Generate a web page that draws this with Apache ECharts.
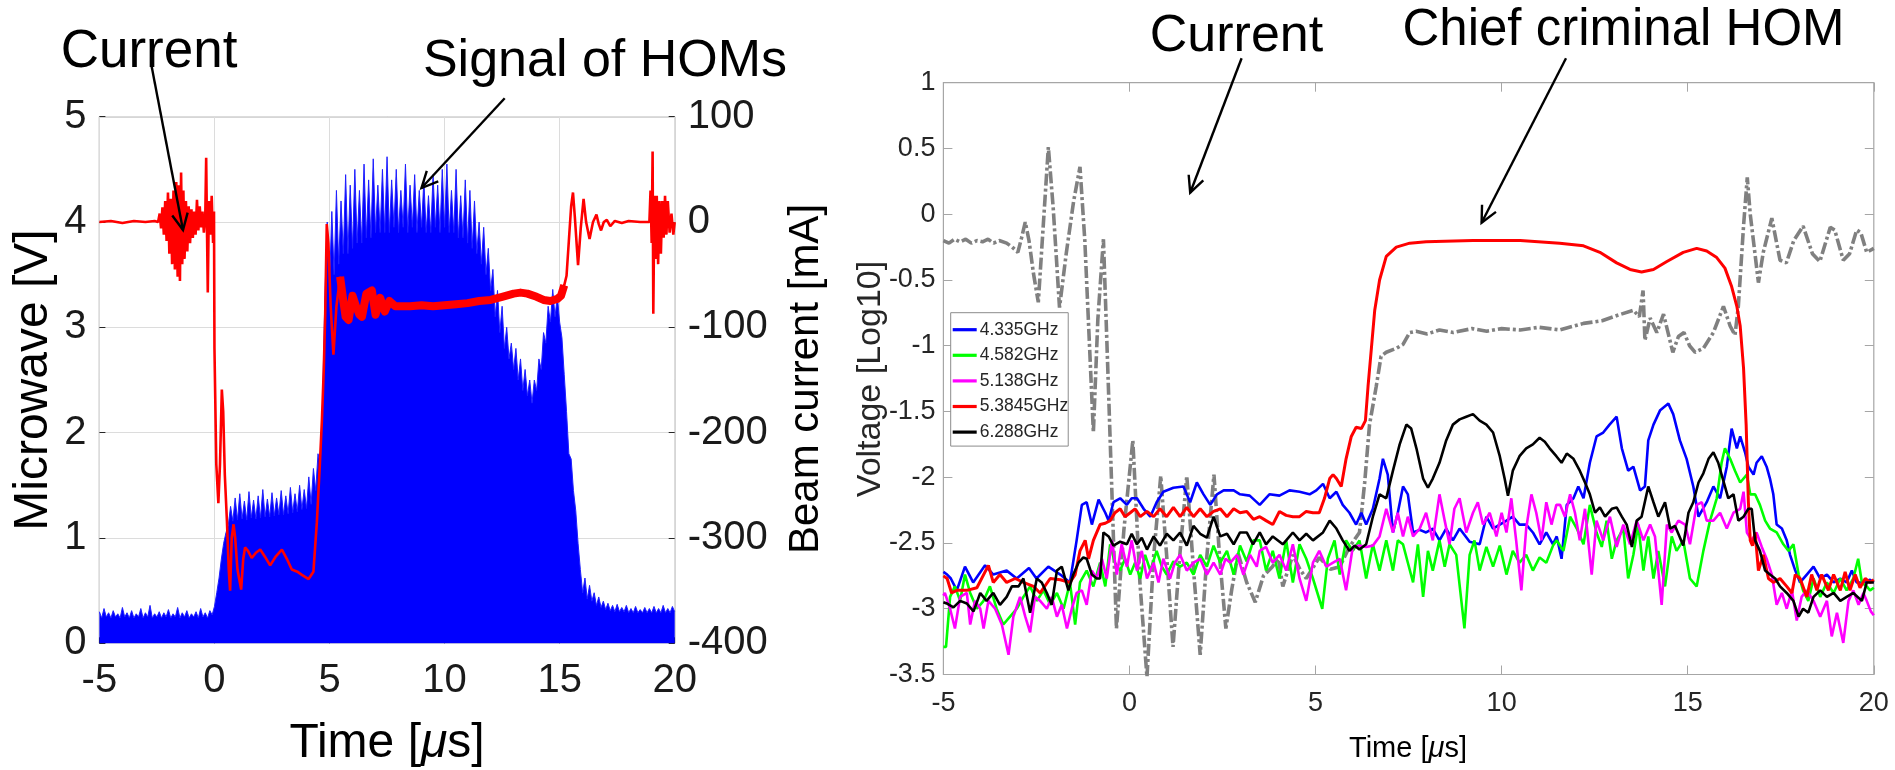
<!DOCTYPE html>
<html><head><meta charset="utf-8">
<script src="https://cdn.jsdelivr.net/npm/echarts@6/dist/echarts.min.js"></script>
<style>html,body{margin:0;padding:0;background:#fff}#c{width:1895px;height:770px}</style>
</head><body><div id="c"></div>
<script>
const FONT = '"Liberation Sans", Arial, Helvetica, sans-serif';

// ---------- LEFT PANEL DATA ----------
// HOM signal envelope (V), sampled every 0.1 us starting at -5 us
const homStartTime = -5, homStep = 0.1;
const homSignal = [
  0.30,0.24,0.33,0.25,0.29,0.24,0.31,0.25,0.28,0.24,
  0.34,0.25,0.29,0.24,0.31,0.24,0.28,0.25,0.33,0.24,
  0.29,0.25,0.36,0.24,0.28,0.25,0.30,0.24,0.29,0.25,
  0.32,0.24,0.28,0.25,0.34,0.24,0.29,0.25,0.31,0.24,
  0.28,0.25,0.30,0.24,0.33,0.25,0.29,0.24,0.31,0.27,
  0.35,0.48,0.62,0.80,0.95,1.05,1.12,1.30,1.16,1.38,
  1.17,1.42,1.18,1.35,1.17,1.44,1.19,1.36,1.18,1.40,
  1.19,1.46,1.20,1.37,1.20,1.43,1.21,1.38,1.22,1.45,
  1.22,1.40,1.23,1.48,1.24,1.42,1.25,1.50,1.27,1.46,
  1.28,1.58,1.32,1.66,1.45,1.80,1.70,2.30,3.30,4.00,
  3.40,4.10,3.50,4.30,3.60,4.20,3.70,4.45,3.70,4.35,
  3.75,4.50,3.80,4.30,3.80,4.55,3.85,4.40,3.85,4.60,
  3.90,4.35,3.90,4.50,3.90,4.62,3.90,4.40,3.95,4.50,
  3.90,4.30,3.95,4.55,3.90,4.35,3.95,4.45,3.90,4.30,
  3.95,4.40,3.90,4.25,3.90,4.45,3.95,4.35,3.90,4.50,
  3.95,4.55,3.90,4.30,3.90,4.50,3.85,4.25,3.85,4.40,
  3.80,4.30,3.75,4.20,3.70,4.00,3.60,3.95,3.50,3.75,
  3.35,3.55,3.10,3.35,2.95,3.20,2.80,3.00,2.70,2.85,
  2.60,2.80,2.50,2.70,2.40,2.60,2.35,2.50,2.28,2.50,
  2.40,2.70,2.60,2.95,2.85,3.20,3.05,3.36,3.10,3.30,
  3.05,2.90,2.55,2.20,1.80,1.75,1.45,1.26,0.95,0.70,
  0.48,0.62,0.42,0.55,0.40,0.48,0.36,0.44,0.34,0.40,
  0.32,0.38,0.31,0.36,0.30,0.37,0.30,0.34,0.30,0.36,
  0.29,0.33,0.29,0.35,0.29,0.32,0.29,0.34,0.29,0.33,
  0.29,0.35,0.29,0.33,0.29,0.36,0.29,0.33,0.29,0.35,
  0.30
];
// Beam current [time us, mA]
const beamCurrent = [
  [-5,0],[-4.5,1],[-4,-1],[-3.5,1],[-3,0],[-2.6,1],
  [-2.45,0],[-2.38,8],[-2.32,-6],[-2.26,14],[-2.2,-12],[-2.14,20],[-2.08,-18],[-2.02,28],[-1.96,-30],[-1.9,22],
  [-1.84,-40],[-1.78,30],[-1.72,-45],[-1.66,38],[-1.6,-52],[-1.55,35],[-1.5,-56],[-1.45,47],[-1.4,-40],[-1.35,30],
  [-1.3,-35],[-1.24,20],[-1.18,-28],[-1.12,15],[-1.06,-20],[-1.0,12],[-0.94,-15],[-0.88,10],[-0.82,-12],[-0.76,21],
  [-0.7,-8],[-0.64,15],[-0.58,-5],[-0.52,10],[-0.46,-10],[-0.4,5],[-0.36,61],[-0.32,-15],[-0.29,-67],[-0.24,20],
  [-0.18,-12],[-0.12,25],[-0.06,-20],[-0.02,10],
  [0.0,-120],[0.08,-230],[0.17,-267],[0.24,-230],[0.32,-159],[0.38,-180],[0.45,-240],[0.54,-283],[0.62,-330],[0.68,-350],
  [0.75,-300],[0.83,-287],[0.9,-300],[1.0,-330],[1.16,-349],[1.25,-320],[1.33,-309],[1.45,-312],[1.62,-319],[1.8,-314],
  [1.99,-311],[2.2,-318],[2.42,-326],[2.65,-318],[2.93,-311],[3.15,-320],[3.36,-330],[3.6,-332],[3.8,-335],[4.09,-339],
  [4.3,-332],[4.45,-285],[4.58,-230],[4.67,-188],[4.75,-140],[4.81,-90],[4.88,-2],[4.95,-20],[5.05,-80],[5.17,-126],
  [5.3,-80],[5.46,-52],[5.6,-75],[5.7,-90],[5.83,-93],[6.0,-70],[6.15,-80],[6.3,-88],[6.41,-90],[6.6,-68],
  [6.84,-65],[7.0,-88],[7.2,-72],[7.4,-85],[7.6,-75],[7.86,-80],[8.5,-80],[9,-79],[9.5,-80],[10,-79],
  [10.5,-78],[11,-77],[11.5,-75],[12,-74],[12.5,-71],[13,-68],[13.3,-67],[13.6,-68],[14,-71],[14.3,-74],
  [14.6,-75],[14.9,-73],[15.06,-70],[15.2,-60],[15.3,-51],[15.4,-18],[15.5,15],[15.58,28],[15.66,5],[15.8,-41],
  [15.92,-5],[16.04,22],[16.15,0],[16.3,-16],[16.45,0],[16.6,7],[16.7,-2],[16.8,-8],[16.92,0],[17.05,2],
  [17.2,-4],[17.4,1],[17.7,-1],[18,1],[18.5,0],[18.9,0],
  [18.95,30],[19.0,-20],[19.04,67],[19.07,-87],[19.12,25],[19.18,-35],[19.22,25],[19.28,-40],[19.34,20],[19.4,-30],
  [19.46,20],[19.52,-15],[19.58,25],[19.64,-12],[19.7,20],[19.78,-10],[19.86,8],[19.94,-12],[20,0]
];

// ---------- RIGHT PANEL DATA ([time us, log10 V]) ----------
const hom4335 = [[-5,-2.72],[-4.9,-2.74],[-4.8,-2.77],[-4.64,-2.86],[-4.42,-2.68],[-4.2,-2.8],[-3.88,-2.67],[-3.66,-2.74],[-3.3,-2.71],[-3.03,-2.77],[-2.7,-2.69],[-2.5,-2.77],[-2.18,-2.68],[-1.86,-2.74],[-1.6,-2.8],[-1.42,-2.48],[-1.28,-2.21],[-1.15,-2.19],[-1.01,-2.36],[-0.83,-2.17],[-0.65,-2.27],[-0.56,-2.33],[-0.43,-2.19],[-0.25,-2.16],[-0.07,-2.21],[0.06,-2.16],[0.2,-2.16],[0.38,-2.24],[0.56,-2.3],[0.73,-2.19],[0.91,-2.11],[1.18,-2.08],[1.45,-2.07],[1.63,-2.19],[1.81,-2.04],[1.99,-2.13],[2.17,-2.21],[2.35,-2.13],[2.53,-2.1],[2.8,-2.1],[2.97,-2.13],[3.23,-2.14],[3.5,-2.21],[3.76,-2.13],[4.03,-2.14],[4.3,-2.1],[4.57,-2.11],[4.84,-2.13],[5.02,-2.1],[5.2,-2.05],[5.38,-2.16],[5.56,-2.11],[5.73,-2.21],[5.91,-2.27],[6.09,-2.36],[6.23,-2.27],[6.36,-2.36],[6.54,-2.24],[6.72,-2.01],[6.81,-1.86],[6.94,-1.98],[7.08,-2.42],[7.21,-2.27],[7.35,-2.07],[7.48,-2.13],[7.62,-2.42],[7.8,-2.4],[7.97,-2.42],[8.15,-2.39],[8.33,-2.48],[8.51,-2.39],[8.69,-2.48],[8.87,-2.39],[9.14,-2.49],[9.41,-2.51],[9.59,-2.3],[9.77,-2.39],[9.95,-2.36],[10.13,-2.33],[10.3,-2.3],[10.48,-2.36],[10.66,-2.36],[10.84,-2.42],[11.02,-2.51],[11.2,-2.42],[11.38,-2.51],[11.48,-2.45],[11.61,-2.62],[11.75,-2.21],[11.93,-2.16],[12.06,-2.07],[12.2,-2.16],[12.37,-1.89],[12.55,-1.69],[12.73,-1.66],[12.9,-1.6],[13.09,-1.54],[13.23,-1.78],[13.4,-1.95],[13.54,-1.92],[13.72,-2.1],[13.85,-2.07],[13.94,-1.72],[14.08,-1.6],[14.26,-1.49],[14.48,-1.44],[14.61,-1.52],[14.79,-1.72],[14.97,-1.86],[15.15,-2.07],[15.29,-2.3],[15.51,-2.19],[15.69,-2.07],[15.87,-2.16],[16.05,-1.92],[16.18,-1.63],[16.32,-1.78],[16.41,-1.69],[16.54,-1.81],[16.63,-1.92],[16.77,-1.98],[16.85,-1.89],[16.99,-1.84],[17.12,-1.92],[17.21,-2.01],[17.3,-2.13],[17.39,-2.36],[17.53,-2.39],[17.66,-2.48],[17.75,-2.59],[17.89,-2.71],[18.02,-2.8],[18.2,-2.74],[18.38,-2.68],[18.56,-2.77],[18.74,-2.74],[18.92,-2.8],[19.1,-2.77],[19.27,-2.8],[19.41,-2.71],[19.54,-2.8],[19.72,-2.8],[19.9,-2.78],[20,-2.8]];
const hom4582 = [[-5,-3.29],[-4.93,-3.29],[-4.82,-2.91],[-4.69,-2.83],[-4.55,-2.94],[-4.42,-2.74],[-4.28,-2.88],[-4.1,-3.0],[-3.92,-2.94],[-3.75,-2.83],[-3.57,-3.0],[-3.39,-3.12],[-3.21,-3.06],[-3.03,-3.0],[-2.85,-2.91],[-2.67,-2.83],[-2.49,-2.94],[-2.31,-2.86],[-2.13,-2.97],[-1.95,-2.88],[-1.77,-3.0],[-1.6,-2.8],[-1.46,-3.12],[-1.33,-2.8],[-1.15,-2.71],[-0.97,-2.83],[-0.79,-2.65],[-0.65,-2.83],[-0.52,-2.51],[-0.39,-2.65],[-0.25,-2.71],[-0.12,-2.62],[0.02,-2.74],[0.15,-2.65],[0.29,-2.77],[0.42,-2.59],[0.56,-2.71],[0.73,-2.56],[0.87,-2.68],[1.0,-2.74],[1.18,-2.64],[1.36,-2.68],[1.54,-2.65],[1.72,-2.74],[1.9,-2.59],[2.08,-2.68],[2.26,-2.52],[2.44,-2.65],[2.62,-2.56],[2.8,-2.74],[2.97,-2.52],[3.15,-2.64],[3.33,-2.48],[3.5,-2.48],[3.67,-2.71],[3.85,-2.56],[4.03,-2.77],[4.21,-2.48],[4.39,-2.8],[4.57,-2.51],[4.75,-2.62],[4.93,-2.77],[5.18,-3.0],[5.33,-2.62],[5.51,-2.48],[5.65,-2.74],[5.82,-2.48],[6.0,-2.56],[6.18,-2.48],[6.36,-2.77],[6.54,-2.51],[6.72,-2.71],[6.9,-2.48],[7.08,-2.71],[7.21,-2.48],[7.35,-2.51],[7.48,-2.65],[7.62,-2.8],[7.75,-2.51],[7.89,-2.91],[8.02,-2.56],[8.15,-2.71],[8.33,-2.48],[8.47,-2.68],[8.6,-2.51],[8.78,-2.59],[9.0,-3.15],[9.14,-2.59],[9.27,-2.48],[9.41,-2.71],[9.59,-2.53],[9.77,-2.68],[9.95,-2.52],[10.13,-2.74],[10.3,-2.56],[10.48,-2.65],[10.66,-2.59],[10.84,-2.71],[11.02,-2.61],[11.2,-2.65],[11.38,-2.52],[11.48,-2.48],[11.66,-2.56],[11.84,-2.3],[12.02,-2.39],[12.2,-2.51],[12.37,-2.21],[12.55,-2.42],[12.69,-2.53],[12.82,-2.33],[12.96,-2.62],[13.09,-2.48],[13.27,-2.39],[13.4,-2.77],[13.54,-2.59],[13.67,-2.36],[13.81,-2.71],[13.94,-2.45],[14.08,-2.77],[14.21,-2.56],[14.39,-2.83],[14.57,-2.45],[14.7,-2.56],[14.88,-2.48],[15.06,-2.77],[15.24,-2.83],[15.42,-2.56],[15.6,-2.33],[15.78,-2.16],[15.91,-1.89],[16.0,-1.78],[16.14,-1.86],[16.27,-1.95],[16.41,-2.04],[16.59,-1.98],[16.68,-2.13],[16.81,-2.13],[16.94,-2.21],[17.08,-2.33],[17.21,-2.39],[17.39,-2.42],[17.57,-2.51],[17.71,-2.56],[17.84,-2.51],[17.98,-2.74],[18.1,-2.86],[18.24,-2.94],[18.38,-2.77],[18.56,-2.91],[18.74,-2.8],[18.92,-2.88],[19.1,-2.77],[19.27,-2.86],[19.45,-2.77],[19.58,-2.62],[19.68,-2.8],[19.81,-2.83],[19.9,-2.86],[20,-2.84]];
const hom5138 = [[-5,-2.9],[-4.96,-2.88],[-4.82,-3.0],[-4.69,-3.15],[-4.55,-2.91],[-4.37,-2.88],[-4.28,-3.12],[-4.15,-2.94],[-4.01,-3.0],[-3.92,-3.15],[-3.79,-2.94],[-3.61,-3.0],[-3.43,-3.12],[-3.25,-3.35],[-3.12,-3.06],[-2.94,-2.91],[-2.8,-3.06],[-2.67,-3.18],[-2.54,-2.91],[-2.4,-2.94],[-2.22,-3.0],[-2.09,-2.91],[-1.95,-3.06],[-1.82,-2.97],[-1.68,-3.15],[-1.55,-3.0],[-1.42,-2.88],[-1.28,-2.86],[-1.15,-2.97],[-1.01,-2.71],[-0.88,-2.77],[-0.74,-2.62],[-0.61,-2.77],[-0.47,-2.48],[-0.34,-2.74],[-0.21,-2.51],[-0.07,-2.68],[0.06,-2.48],[0.2,-2.71],[0.33,-2.56],[0.47,-2.77],[0.65,-2.65],[0.78,-2.8],[0.91,-2.62],[1.09,-2.77],[1.22,-2.65],[1.36,-2.59],[1.54,-2.71],[1.72,-2.65],[1.9,-2.62],[2.08,-2.74],[2.26,-2.65],[2.44,-2.74],[2.58,-2.62],[2.71,-2.65],[2.89,-2.59],[3.06,-2.74],[3.24,-2.59],[3.42,-2.68],[3.5,-2.56],[3.67,-2.53],[3.85,-2.65],[4.03,-2.59],[4.21,-2.71],[4.39,-2.51],[4.57,-2.77],[4.75,-2.94],[4.93,-2.65],[5.1,-2.56],[5.29,-2.68],[5.47,-2.65],[5.65,-2.62],[5.82,-2.86],[6.0,-2.53],[6.18,-2.52],[6.36,-2.53],[6.54,-2.52],[6.72,-2.45],[6.9,-2.24],[7.08,-2.42],[7.21,-2.27],[7.35,-2.45],[7.48,-2.3],[7.62,-2.45],[7.8,-2.39],[7.97,-2.27],[8.15,-2.48],[8.33,-2.13],[8.47,-2.33],[8.6,-2.51],[8.73,-2.24],[8.87,-2.16],[9.05,-2.42],[9.23,-2.27],[9.36,-2.19],[9.5,-2.36],[9.68,-2.27],[9.86,-2.45],[10.0,-2.27],[10.13,-2.42],[10.26,-2.16],[10.39,-2.48],[10.53,-2.86],[10.66,-2.39],[10.8,-2.13],[10.93,-2.27],[11.07,-2.48],[11.2,-2.19],[11.34,-2.36],[11.47,-2.21],[11.57,-2.21],[11.7,-2.3],[11.84,-2.13],[11.97,-2.27],[12.1,-2.48],[12.24,-2.24],[12.42,-2.74],[12.55,-2.33],[12.73,-2.48],[12.91,-2.3],[13.09,-2.53],[13.27,-2.36],[13.45,-2.51],[13.63,-2.33],[13.81,-2.48],[13.99,-2.36],[14.12,-2.45],[14.3,-2.97],[14.44,-2.36],[14.57,-2.42],[14.75,-2.33],[14.93,-2.36],[15.06,-2.51],[15.24,-2.21],[15.38,-2.19],[15.51,-2.33],[15.69,-2.33],[15.87,-2.27],[16.05,-2.39],[16.23,-2.27],[16.41,-2.24],[16.5,-2.11],[16.59,-2.42],[16.72,-2.48],[16.85,-2.42],[16.99,-2.53],[17.12,-2.62],[17.26,-2.74],[17.39,-2.97],[17.53,-2.88],[17.66,-3.0],[17.8,-2.86],[17.93,-3.09],[18.06,-2.91],[18.2,-2.86],[18.38,-2.94],[18.56,-3.06],[18.74,-2.94],[18.87,-3.21],[19.01,-3.03],[19.18,-3.26],[19.32,-2.94],[19.45,-2.86],[19.59,-2.97],[19.72,-2.88],[19.81,-2.94],[19.92,-3.02],[20,-3.05]];
const hom53845 = [[-5,-2.75],[-4.9,-2.77],[-4.78,-2.88],[-4.64,-2.86],[-4.37,-2.86],[-4.1,-2.84],[-3.79,-2.67],[-3.66,-2.8],[-3.48,-2.74],[-3.3,-2.8],[-3.07,-2.77],[-2.85,-2.8],[-2.58,-2.83],[-2.4,-2.88],[-2.13,-2.77],[-1.86,-2.78],[-1.6,-2.8],[-1.46,-2.74],[-1.33,-2.56],[-1.19,-2.48],[-1.1,-2.62],[-0.97,-2.48],[-0.79,-2.36],[-0.65,-2.35],[-0.52,-2.33],[-0.39,-2.27],[-0.25,-2.24],[-0.12,-2.3],[0.02,-2.27],[0.15,-2.24],[0.29,-2.3],[0.47,-2.26],[0.65,-2.3],[0.82,-2.24],[1.0,-2.3],[1.18,-2.23],[1.36,-2.3],[1.54,-2.23],[1.72,-2.3],[1.9,-2.24],[2.08,-2.3],[2.26,-2.26],[2.44,-2.24],[2.62,-2.3],[2.8,-2.24],[2.97,-2.27],[3.15,-2.26],[3.33,-2.32],[3.5,-2.3],[3.67,-2.33],[3.85,-2.36],[4.03,-2.26],[4.21,-2.29],[4.39,-2.3],[4.57,-2.3],[4.75,-2.26],[4.93,-2.27],[5.1,-2.27],[5.24,-2.16],[5.38,-2.01],[5.47,-1.98],[5.56,-2.01],[5.69,-2.07],[5.82,-1.86],[5.96,-1.69],[6.09,-1.62],[6.23,-1.63],[6.34,-1.57],[6.41,-1.31],[6.5,-1.02],[6.59,-0.73],[6.72,-0.5],[6.9,-0.32],[7.17,-0.25],[7.53,-0.22],[7.97,-0.21],[9.23,-0.2],[10.5,-0.2],[11.56,-0.22],[12.2,-0.24],[12.64,-0.29],[13.09,-0.37],[13.45,-0.42],[13.76,-0.44],[14.08,-0.42],[14.44,-0.36],[14.88,-0.29],[15.24,-0.26],[15.51,-0.28],[15.78,-0.33],[16.0,-0.41],[16.18,-0.55],[16.32,-0.7],[16.41,-0.85],[16.5,-1.17],[16.57,-1.6],[16.63,-2.19],[16.68,-2.48],[16.74,-2.52],[16.81,-2.42],[16.9,-2.71],[17.03,-2.59],[17.17,-2.77],[17.3,-2.8],[17.48,-2.77],[17.66,-2.83],[17.8,-2.88],[17.89,-2.74],[18.02,-2.77],[18.2,-2.91],[18.33,-2.74],[18.47,-2.86],[18.6,-2.74],[18.78,-2.86],[18.92,-2.74],[19.1,-2.86],[19.23,-2.72],[19.36,-2.86],[19.5,-2.74],[19.63,-2.84],[19.77,-2.77],[19.9,-2.8],[20,-2.78]];
const hom6288 = [[-5,-2.95],[-4.91,-2.96],[-4.73,-2.99],[-4.55,-2.94],[-4.37,-2.96],[-4.19,-3.02],[-4.01,-2.88],[-3.84,-2.94],[-3.66,-2.88],[-3.48,-2.97],[-3.3,-2.91],[-3.16,-2.83],[-2.98,-2.83],[-2.85,-2.77],[-2.67,-3.03],[-2.49,-2.77],[-2.36,-2.8],[-2.22,-2.88],[-2.09,-2.97],[-1.95,-2.71],[-1.82,-2.68],[-1.64,-2.86],[-1.51,-2.74],[-1.37,-2.65],[-1.24,-2.61],[-1.15,-2.62],[-1.01,-2.74],[-0.88,-2.77],[-0.79,-2.77],[-0.7,-2.42],[-0.56,-2.45],[-0.43,-2.52],[-0.25,-2.49],[-0.07,-2.51],[0.06,-2.43],[0.2,-2.51],[0.33,-2.46],[0.47,-2.55],[0.65,-2.45],[0.82,-2.52],[1.0,-2.43],[1.18,-2.48],[1.36,-2.42],[1.54,-2.52],[1.72,-2.37],[1.9,-2.43],[2.08,-2.46],[2.26,-2.3],[2.44,-2.45],[2.62,-2.43],[2.8,-2.51],[2.97,-2.42],[3.15,-2.42],[3.32,-2.51],[3.5,-2.42],[3.67,-2.51],[3.85,-2.45],[4.12,-2.51],[4.39,-2.42],[4.57,-2.48],[4.75,-2.43],[4.93,-2.48],[5.2,-2.42],[5.38,-2.33],[5.56,-2.39],[5.73,-2.48],[5.91,-2.56],[6.05,-2.52],[6.18,-2.55],[6.36,-2.51],[6.54,-2.3],[6.72,-2.13],[6.9,-2.16],[7.08,-1.95],[7.26,-1.75],[7.44,-1.6],[7.57,-1.63],[7.71,-1.78],[7.89,-2.01],[8.02,-2.08],[8.15,-2.01],[8.33,-1.89],[8.51,-1.72],[8.69,-1.6],[8.87,-1.56],[9.05,-1.54],[9.23,-1.52],[9.41,-1.57],[9.59,-1.6],[9.77,-1.66],[9.95,-1.84],[10.08,-2.01],[10.17,-2.14],[10.3,-1.95],[10.48,-1.84],[10.66,-1.78],[10.84,-1.75],[11.02,-1.7],[11.16,-1.73],[11.29,-1.78],[11.47,-1.84],[11.61,-1.89],[11.75,-1.82],[11.93,-1.86],[12.1,-1.95],[12.24,-2.04],[12.37,-2.13],[12.51,-2.27],[12.64,-2.23],[12.78,-2.3],[12.96,-2.24],[13.09,-2.23],[13.23,-2.3],[13.36,-2.36],[13.5,-2.53],[13.63,-2.33],[13.76,-2.3],[13.94,-2.07],[14.08,-2.19],[14.21,-2.3],[14.39,-2.19],[14.53,-2.39],[14.66,-2.37],[14.88,-2.52],[15.02,-2.27],[15.15,-2.19],[15.29,-2.04],[15.42,-1.97],[15.56,-1.86],[15.69,-1.81],[15.82,-1.89],[16.0,-2.07],[16.09,-2.16],[16.23,-2.13],[16.36,-2.33],[16.5,-2.3],[16.63,-2.24],[16.72,-2.24],[16.81,-2.48],[16.94,-2.56],[17.08,-2.71],[17.21,-2.74],[17.35,-2.77],[17.48,-2.83],[17.66,-2.88],[17.84,-2.94],[17.98,-3.06],[18.1,-3.0],[18.24,-3.03],[18.38,-2.91],[18.56,-2.86],[18.74,-2.91],[18.92,-2.88],[19.1,-2.94],[19.27,-2.91],[19.45,-2.88],[19.68,-2.94],[19.81,-2.8],[20,-2.8]];
const currentLog = [[-5,-0.2],[-4.85,-0.22],[-4.7,-0.19],[-4.55,-0.21],[-4.4,-0.19],[-4.25,-0.22],[-4.1,-0.2],[-3.95,-0.21],[-3.8,-0.19],[-3.65,-0.22],[-3.5,-0.2],[-3.3,-0.22],[-3.15,-0.25],[-3.0,-0.29],[-2.9,-0.18],[-2.8,-0.06],[-2.7,-0.2],[-2.58,-0.45],[-2.45,-0.67],[-2.32,-0.1],[-2.18,0.51],[-2.05,0.05],[-1.88,-0.71],[-1.7,-0.3],[-1.5,0.1],[-1.33,0.36],[-1.2,-0.2],[-0.97,-1.66],[-0.85,-0.8],[-0.7,-0.19],[-0.58,-1.2],[-0.35,-3.15],[-0.15,-2.4],[0.09,-1.72],[0.28,-2.8],[0.47,-3.52],[0.65,-2.6],[0.84,-1.99],[1.0,-2.6],[1.17,-3.29],[1.35,-2.6],[1.54,-1.99],[1.72,-2.7],[1.9,-3.35],[2.08,-2.6],[2.27,-1.98],[2.42,-2.6],[2.59,-3.15],[2.75,-2.85],[2.92,-2.58],[3.15,-2.8],[3.38,-2.95],[3.6,-2.75],[3.84,-2.68],[4.0,-2.62],[4.12,-2.83],[4.39,-2.59],[4.58,-2.7],[4.75,-2.77],[5.1,-2.61],[5.4,-2.7],[5.65,-2.68],[5.91,-2.53],[6.18,-2.42],[6.32,-2.04],[6.45,-1.6],[6.63,-1.31],[6.76,-1.08],[6.9,-1.05],[7.17,-1.02],[7.35,-0.99],[7.53,-0.9],[7.7,-0.89],[8.0,-0.91],[8.33,-0.88],[8.7,-0.9],[9.2,-0.87],[9.6,-0.89],[10.0,-0.87],[10.5,-0.88],[11.0,-0.86],[11.56,-0.88],[12.2,-0.83],[12.7,-0.81],[13.1,-0.77],[13.54,-0.73],[13.7,-0.78],[13.8,-0.58],[13.85,-0.96],[13.99,-0.79],[14.17,-0.9],[14.35,-0.76],[14.6,-1.05],[14.75,-0.93],[14.9,-0.9],[15.05,-1.0],[15.2,-1.05],[15.42,-1.02],[15.69,-0.9],[15.96,-0.7],[16.14,-0.85],[16.27,-0.92],[16.36,-0.7],[16.5,-0.09],[16.6,0.28],[16.68,0.0],[16.9,-0.52],[17.03,-0.29],[17.26,-0.03],[17.48,-0.35],[17.65,-0.37],[17.85,-0.2],[18.1,-0.09],[18.35,-0.3],[18.55,-0.36],[18.83,-0.1],[18.95,-0.12],[19.18,-0.35],[19.35,-0.3],[19.54,-0.12],[19.65,-0.14],[19.81,-0.29],[20,-0.26]];
const legendNames = ['4.335GHz','4.582GHz','5.138GHz','5.3845GHz','6.288GHz'];

// ---------- BUILD ----------
const homData = homSignal.map((v, i) => [+(homStartTime + i * homStep).toFixed(2), v]);
const rippleData = beamCurrent.filter(p => p[0] >= 5.35 && p[0] <= 15.25);

function arrow(x1, y1, x2, y2) {
  const a = Math.atan2(y2 - y1, x2 - x1), L = 18, h = 0.45;
  return [
    { type: 'line', shape: { x1, y1, x2, y2 }, style: { stroke: '#000', lineWidth: 2.4 }, z: 100 },
    { type: 'polyline', z: 100, shape: { points: [
      [x2 - L * Math.cos(a - h), y2 - L * Math.sin(a - h)], [x2, y2],
      [x2 - L * Math.cos(a + h), y2 - L * Math.sin(a + h)]] },
      style: { stroke: '#000', lineWidth: 2.4, fill: null } }
  ];
}
function txt(text, x, y, size, opts) {
  opts = opts || {};
  return { type: 'text', x: x, y: y, rotation: opts.rot || 0, z: 100,
    style: { text: text, x: 0, y: 0, font: 'normal ' + size + 'px ' + FONT,
      fill: opts.color || '#000', align: 'center', verticalAlign: 'middle',
      textAlign: 'center', textVerticalAlign: 'middle', rich: opts.rich } };
}

const L_GRID = { left: 99.4, top: 116.7, width: 575.3, height: 526.6 };
const R_GRID = { left: 943.4, top: 82.7, width: 930.4, height: 591.8 };
const darkTxt = '#1a1a1a', rTxt = '#262626';

const chart = echarts.init(document.getElementById('c'), null, { renderer: 'canvas' });
const lineBase = { type: 'line', showSymbol: false, symbol: 'none', animation: false, silent: true };
const rightLine = (name, data, color, w) => Object.assign({}, lineBase, {
  name, data, xAxisIndex: 1, yAxisIndex: 2, lineStyle: { color, width: w || 2.6 }, itemStyle: { color }, z: 5 });
const noLine = { show: false, onZero: false };

chart.setOption({
  animation: false,
  backgroundColor: '#ffffff',
  textStyle: { fontFamily: FONT },
  grid: [
    Object.assign({ show: true, borderColor: '#262626', borderWidth: 1, backgroundColor: 'transparent', containLabel: false }, L_GRID),
    Object.assign({ show: true, borderColor: '#a6a6a6', borderWidth: 1.2, backgroundColor: 'transparent', containLabel: false }, R_GRID)
  ],
  xAxis: [
    { gridIndex: 0, type: 'value', min: -5, max: 20, interval: 5, position: 'bottom',
      axisLine: noLine, axisTick: { show: true, inside: true, length: 6, lineStyle: { color: '#262626' } },
      axisLabel: { fontSize: 40, color: darkTxt, margin: 18, fontFamily: FONT },
      splitLine: { show: true, lineStyle: { color: '#dcdcdc', width: 1 } } },
    { gridIndex: 1, type: 'value', min: -5, max: 20, interval: 5, position: 'bottom',
      axisLine: noLine, axisTick: { show: true, inside: true, length: 9, lineStyle: { color: '#a6a6a6' } },
      axisLabel: { fontSize: 27, color: rTxt, margin: 16, fontFamily: FONT },
      splitLine: { show: false } },
    { gridIndex: 1, type: 'value', position: 'top', min: -5, max: 20, interval: 5,
      axisLine: noLine, axisTick: { show: true, inside: true, length: 9, lineStyle: { color: '#a6a6a6' } },
      axisLabel: { show: false }, splitLine: { show: false } }
  ],
  yAxis: [
    { gridIndex: 0, type: 'value', min: 0, max: 5, interval: 1, position: 'left',
      axisLine: noLine, axisTick: { show: true, inside: true, length: 6, lineStyle: { color: '#262626' } },
      axisLabel: { fontSize: 40, color: darkTxt, margin: 13, fontFamily: FONT },
      splitLine: { show: true, lineStyle: { color: '#dcdcdc', width: 1 } } },
    { gridIndex: 0, type: 'value', min: -400, max: 100, interval: 100, position: 'right',
      axisLine: noLine, axisTick: { show: true, inside: true, length: 6, lineStyle: { color: '#262626' } },
      axisLabel: { fontSize: 40, color: darkTxt, margin: 13, fontFamily: FONT },
      splitLine: { show: false } },
    { gridIndex: 1, type: 'value', min: -3.5, max: 1, interval: 0.5, position: 'left',
      axisLine: noLine, axisTick: { show: true, inside: true, length: 9, lineStyle: { color: '#a6a6a6' } },
      axisLabel: { fontSize: 27, color: rTxt, margin: 8, fontFamily: FONT },
      splitLine: { show: false } },
    { gridIndex: 1, type: 'value', min: -3.5, max: 1, interval: 0.5, position: 'right',
      axisLine: noLine, axisTick: { show: true, inside: true, length: 9, lineStyle: { color: '#a6a6a6' } },
      axisLabel: { show: false }, splitLine: { show: false } }
  ],
  legend: {
    data: legendNames, orient: 'vertical', left: 950.7, top: 312.7,
    icon: 'rect', itemWidth: 24, itemHeight: 3.2, itemGap: 7.6,
    padding: [8, 0, 5, 2], backgroundColor: '#ffffff', borderColor: '#8c8c8c', borderWidth: 1,
    textStyle: { fontSize: 17.5, color: rTxt, fontFamily: FONT, padding: [0, 0, 0, -2] },
    selectedMode: false
  },
  series: [
    Object.assign({}, lineBase, { name: 'Signal of HOMs', data: homData, xAxisIndex: 0, yAxisIndex: 0,
      lineStyle: { color: '#1f1fff', width: 1 }, areaStyle: { color: '#0000ff', opacity: 1, origin: 'start' }, z: 2 }),
    Object.assign({}, lineBase, { name: 'Beam current', data: beamCurrent, xAxisIndex: 0, yAxisIndex: 1,
      lineStyle: { color: '#ff0000', width: 2.6 }, z: 4 }),
    Object.assign({}, lineBase, { name: 'Beam current ripple', data: rippleData, xAxisIndex: 0, yAxisIndex: 1,
      lineStyle: { color: '#ff0000', width: 8, join: 'round' }, z: 4 }),
    Object.assign({}, lineBase, { name: 'Current', data: currentLog, xAxisIndex: 1, yAxisIndex: 2,
      lineStyle: { color: '#808080', width: 3.6, type: [12, 3, 3, 3] }, z: 3 }),
    rightLine('4.335GHz', hom4335, '#0000ff'),
    rightLine('4.582GHz', hom4582, '#00ff00'),
    rightLine('5.138GHz', hom5138, '#ff00ff'),
    rightLine('5.3845GHz', hom53845, '#ff0000', 3),
    rightLine('6.288GHz', hom6288, '#000000')
  ],
  graphic: { elements: [
    txt('Current', 149, 52, 53),
    txt('Signal of HOMs', 605, 62, 52),
    txt('Microwave [V]', 34, 380, 48, { rot: Math.PI / 2 }),
    txt('Beam current [mA]', 806, 379, 42, { rot: Math.PI / 2 }),
    txt('{a|Time [}{b|μ}{a|s]}', 387, 744, 48, { rich: { a: { fontSize: 48, fontFamily: FONT, color: darkTxt }, b: { fontSize: 48, fontFamily: FONT, fontStyle: 'italic', color: darkTxt } } }),
    txt('Current', 1236.5, 37, 52),
    txt('Chief criminal HOM', 1623.5, 31, 51),
    txt('Voltage [Log10]', 871, 379, 34, { rot: Math.PI / 2, color: rTxt }),
    txt('{a|Time [}{b|μ}{a|s]}', 1408, 749, 29, { rich: { a: { fontSize: 29, fontFamily: FONT, color: rTxt }, b: { fontSize: 29, fontFamily: FONT, fontStyle: 'italic', color: rTxt } } }),
    ...arrow(151.7, 66.7, 183, 230),
    ...arrow(504.7, 98.3, 421.5, 188),
    ...arrow(1241.6, 58.3, 1190.2, 192.7),
    ...arrow(1566, 58.3, 1481.6, 222.7)
  ] }
});
</script>
</body></html>
